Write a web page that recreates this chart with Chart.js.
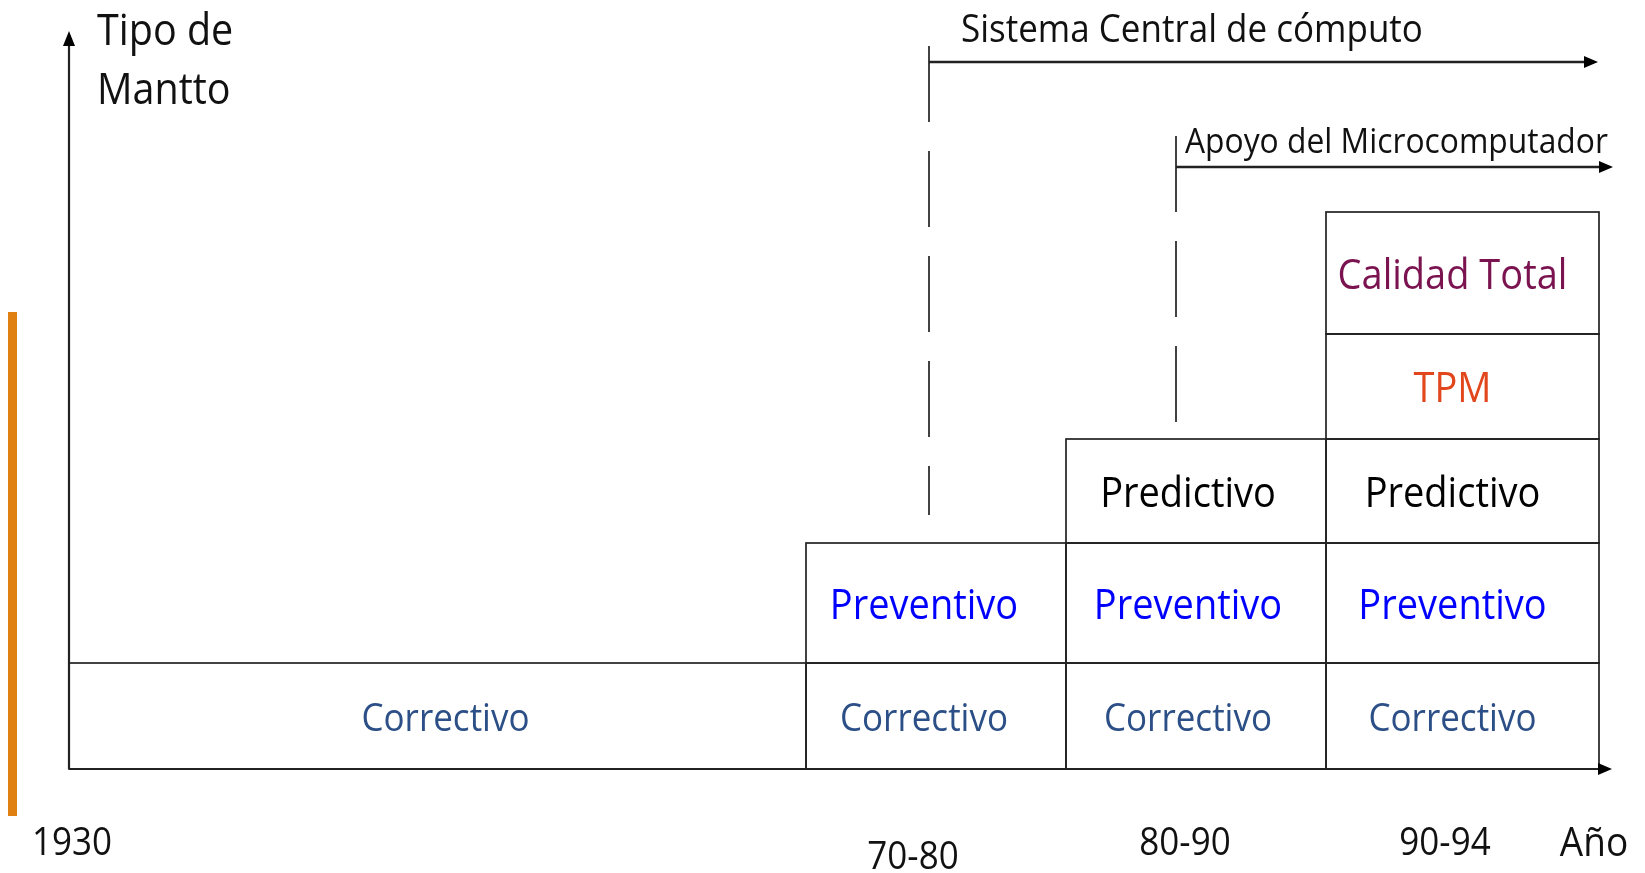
<!DOCTYPE html>
<html>
<head>
<meta charset="utf-8">
<script src="https://cdn.jsdelivr.net/npm/chart.js@4.4.1/dist/chart.umd.min.js"></script>
<style>
  html, body { margin: 0; padding: 0; background: #fff; }
  #wrap { width: 1645px; height: 873px; }
</style>
</head>
<body>
<div id="wrap"><canvas id="evolucion"></canvas></div>
<script>
// periodos (columnas) y sus limites sobre el eje x
const anios = ['1930', '70-80', '80-90', '90-94'];
const limitesAnio = [0, 7.37, 9.97, 12.57, 15.30];
// tipos de mantenimiento (filas) y sus limites sobre el eje y
const tiposMantto = ['Correctivo', 'Preventivo', 'Predictivo', 'TPM', 'Calidad Total'];
const limitesTipo = [0, 1.06, 2.26, 3.30, 4.35, 5.57];
// cuantos tipos se usan en cada periodo
const nivelesPorAnio = [1, 2, 3, 5];
const coloresTipo = ['#2B4F86', '#0000FF', '#000000', '#E2461C', '#7A1350'];
const tamTipo = [35, 38, 38, 38, 38];

// etiquetas del eje x
const etiquetasX = ['1930', '70-80', '80-90', '90-94', 'Año'];
const posEtiquetasX = [0.03, 8.44, 11.16, 13.76, 15.25];

// flechas de apoyo informatico
const apoyos = ['Sistema Central de cómputo', 'Apoyo del Microcomputador'];
const apoyoInicioX = [8.60, 11.07];
const apoyoFinX = [15.29, 15.44];
const apoyoY = [7.07, 6.02];
const apoyoGuiaArriba = [7.23, 6.33];
const apoyoGuiaAbajo = [2.54, 3.46];
const apoyoTextoX = [8.92, 11.16];

const flecha = (ctx, x, y, dir, largo, ancho) => {
    ctx.beginPath();
    if (dir === 'right') {
        ctx.moveTo(x, y);
        ctx.lineTo(x - largo, y - ancho);
        ctx.lineTo(x - largo, y + ancho);
    } else {
        ctx.moveTo(x, y);
        ctx.lineTo(x - ancho, y + largo);
        ctx.lineTo(x + ancho, y + largo);
    }
    ctx.closePath();
    ctx.fill();
}

// texto un poco estirado en vertical, como el original
const texto = (ctx, t, x, y) => {
    ctx.save();
    ctx.translate(x, y);
    ctx.scale(1, 1.1);
    ctx.fillText(t, 0, 0);
    ctx.restore();
}

const dibujoMantto = {
    id: 'dibujoMantto',
    afterDraw(chart) {
        const ctx = chart.ctx;
        const sx = chart.scales.x;
        const sy = chart.scales.y;
        const px = v => sx.getPixelForValue(v);
        const py = v => sy.getPixelForValue(v);
        const fuente = 'Open Sans, sans-serif';
        const corrimiento = [8, -12, -8, -10];
        ctx.save();

        // barra naranja a la izquierda
        ctx.fillStyle = '#E07F12';
        ctx.fillRect(px(-0.61), py(4.57), px(-0.52) - px(-0.61), py(-0.47) - py(4.57));

        // celdas
        ctx.strokeStyle = '#222';
        ctx.lineWidth = 1.7;
        ctx.textAlign = 'center';
        ctx.textBaseline = 'middle';
        for (let c = 0; c < anios.length; c++) {
            for (let f = 0; f < nivelesPorAnio[c]; f++) {
                const x0 = px(limitesAnio[c]), x1 = px(limitesAnio[c + 1]);
                const y0 = py(limitesTipo[f + 1]), y1 = py(limitesTipo[f]);
                ctx.strokeRect(x0, y0, x1 - x0, y1 - y0);
                ctx.fillStyle = coloresTipo[f];
                ctx.font = tamTipo[f] + 'px ' + fuente;
                texto(ctx, tiposMantto[f], (x0 + x1) / 2 + corrimiento[c], (y0 + y1) / 2 + 4);
            }
        }

        // ejes
        ctx.strokeStyle = '#222';
        ctx.fillStyle = '#000';
        ctx.lineWidth = 2.2;
        ctx.beginPath();
        ctx.moveTo(px(0), py(0));
        ctx.lineTo(px(0), sy.top + 4);
        ctx.moveTo(px(0), py(0));
        ctx.lineTo(sx.right - 4, py(0));
        ctx.stroke();
        flecha(ctx, px(0), sy.top, 'up', 15, 6);
        flecha(ctx, sx.right, py(0), 'right', 14, 6);

        // flechas de apoyo con guias punteadas
        for (let i = 0; i < apoyos.length; i++) {
            const x0 = px(apoyoInicioX[i]);
            ctx.lineWidth = 2.6;
            ctx.beginPath();
            ctx.moveTo(x0, py(apoyoY[i]));
            ctx.lineTo(px(apoyoFinX[i]) - 4, py(apoyoY[i]));
            ctx.stroke();
            flecha(ctx, px(apoyoFinX[i]), py(apoyoY[i]), 'right', 14, 6);
            ctx.lineWidth = 1.7;
            ctx.setLineDash([76, 29]);
            ctx.beginPath();
            ctx.moveTo(x0, py(apoyoGuiaArriba[i]));
            ctx.lineTo(x0, py(apoyoGuiaAbajo[i]));
            ctx.stroke();
            ctx.setLineDash([]);
        }
        ctx.fillStyle = '#111';
        ctx.textAlign = 'left';
        ctx.font = '35px ' + fuente;
        texto(ctx, apoyos[0], px(apoyoTextoX[0]), 31);
        ctx.font = '31.8px ' + fuente;
        texto(ctx, apoyos[1], px(apoyoTextoX[1]), 143);

        // titulo del eje y
        ctx.font = '39.5px ' + fuente;
        texto(ctx, 'Tipo de', 97, 33);
        texto(ctx, 'Mantto', 97, 92);

        // etiquetas del eje x
        ctx.textAlign = 'center';
        for (let i = 0; i < etiquetasX.length; i++) {
            const abajo = etiquetasX[i] === '70-80' ? 89 : 75;
            ctx.font = (etiquetasX[i] === 'Año' ? 37 : 35) + 'px ' + fuente;
            texto(ctx, etiquetasX[i], px(posEtiquetasX[i]), py(0) + abajo);
        }
        ctx.restore();
    }
};

document.addEventListener('DOMContentLoaded', () => {
    new Chart(document.getElementById('evolucion'), {
        type: 'scatter',
        data: { datasets: [] },
        options: {
            responsive: true,
            maintainAspectRatio: false,
            animation: false,
            layout: { padding: { left: 69, right: 33, top: 31, bottom: 104 } },
            plugins: { legend: { display: false }, tooltip: { enabled: false } },
            scales: {
                x: { type: 'linear', min: 0, max: 15.43, display: false },
                y: { type: 'linear', min: 0, max: 7.38, display: false }
            }
        },
        plugins: [dibujoMantto]
    });
});
</script>
</body>
</html>
